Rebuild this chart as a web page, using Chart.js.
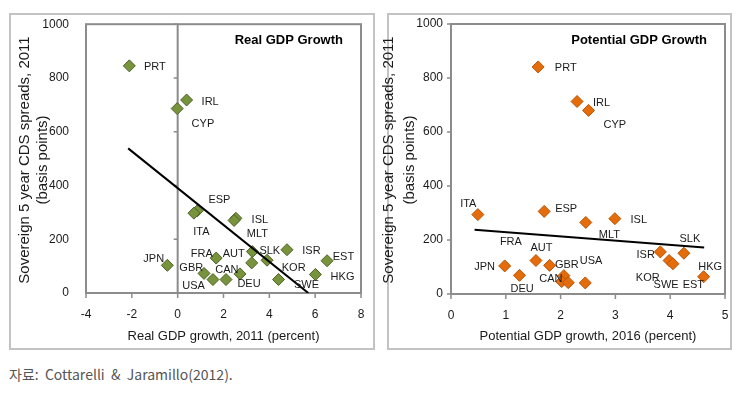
<!DOCTYPE html>
<html><head><meta charset="utf-8">
<script src="https://cdn.jsdelivr.net/npm/chart.js@4/dist/chart.umd.min.js"></script>
<style>
html,body{margin:0;padding:0;background:#fff;}
body{width:750px;height:408px;position:relative;overflow:hidden;}
#c1{position:absolute;left:0;top:0;}
#c2{position:absolute;left:380px;top:0;}
#src{position:absolute;left:9px;top:364px;font:14px "Noto Sans CJK KR","Liberation Sans",sans-serif;color:#555;white-space:pre;}
</style></head><body>
<canvas id="c1" width="380" height="360"></canvas>
<canvas id="c2" width="370" height="360"></canvas>
<div id="src">자료:  Cottarelli  &amp;  Jaramillo(2012).</div>
<script>
// ---------- DATA ----------
const realCountries = ['PRT','IRL','CYP','ESP','ITA','ISL','MLT','JPN','FRA','SLK','AUT','KOR','ISR','EST','HKG','SWE','GBR','CAN','USA','DEU'];
const realGrowth    = [-2.11,0.39,-0.02,0.86,0.71,2.54,2.46,-0.45,1.68,3.26,3.23,3.90,4.77,6.52,6.01,4.40,1.15,2.11,1.54,2.72];
const realCds       = [845,718,686,306,297,278,270,103,130,154,112,122,161,120,69,50,73,50,50,71];
const realTrendX    = [-2.16,5.70];
const realTrendY    = [538,0];

const potCountries  = ['PRT','IRL','CYP','ITA','ESP','MLT','ISL','ISR','SLK','KOR','SWE','HKG','JPN','DEU','AUT','GBR','FRA','CAN','EST','USA'];
const potGrowth     = [1.59,2.30,2.51,0.49,1.70,2.46,2.99,3.82,4.25,3.98,4.05,4.61,0.98,1.25,1.55,1.80,2.06,2.02,2.14,2.45];
const potCds        = [841,713,680,294,306,265,279,156,151,124,112,64,104,69,124,106,68,46,42,41];
const potTrendX     = [0.43,4.62];
const potTrendY     = [238,172];

const yTicks = [0,200,400,600,800,1000];
const realXTicks = [-4,-2,0,2,4,6,8];
const potXTicks = [0,1,2,3,4,5];

// ---------- LAYOUT (label offsets in px, left edge / vertical middle) ----------
const realLabelOffsets = [[14.7,1],[15,1.7],[14.4,15.7],[11,-11],[-0.7,18.4],[15.7,1.7],[12.7,13.3],[-24,-6.2],[-25.3,-4],[7,-0.7],[-29,-9],[14.7,7.8],[15.3,1],[5.7,-3.6],[15.2,2.6],[15.5,5.3],[-24.7,-5.4],[-10.7,-9.7],[-30.7,6.3],[-2.6,9.8]];
const potLabelOffsets  = [[16.7,0.6],[16,1],[15,14.7],[-17.7,-11],[11,-2.4],[13,12.3],[15.7,1.7],[-23.8,3],[-4.4,-14],[-33.3,17.6],[-19.4,21],[-5.4,-9.4],[-30.5,1.3],[-9,13.8],[-5.5,-12.8],[5.3,-0.5],[-64,-34],[-22.4,-2.4],[114.4,2.3],[-5.5,-22.3]];

const FONT = '"Liberation Sans", Arial, sans-serif';
const AXIS_GRAY = '#8c8c8c';

function pts(xs, ys){ return xs.map((x,i)=>({x:x, y:ys[i]})); }

function panelPlugin(o){
  return {
    id: 'panel_' + o.name,
    beforeDraw(chart){
      const ctx = chart.ctx;
      ctx.save();
      ctx.fillStyle = '#fff';
      ctx.fillRect(0,0,chart.width,chart.height);
      ctx.strokeStyle = '#c3c3c3';
      ctx.lineWidth = 2;
      ctx.strokeRect(o.frame[0], o.frame[1], o.frame[2], o.frame[3]);
      ctx.restore();
    },
    beforeDatasetsDraw(chart){
      const ctx = chart.ctx, a = chart.chartArea;
      const xs = chart.scales.x, ys = chart.scales.y;
      ctx.save();
      ctx.strokeStyle = AXIS_GRAY;
      ctx.lineWidth = 2;
      ctx.strokeRect(a.left, a.top, a.right - a.left, a.bottom - a.top);
      const x0 = xs.getPixelForValue(0);
      ctx.beginPath(); ctx.moveTo(x0, a.top); ctx.lineTo(x0, a.bottom); ctx.stroke();
      ctx.lineWidth = 1.5;
      ctx.beginPath();
      o.yTicks.forEach(v=>{ const y = ys.getPixelForValue(v); ctx.moveTo(x0-4, y); ctx.lineTo(x0, y); });
      o.xTicks.forEach(v=>{ const x = xs.getPixelForValue(v); ctx.moveTo(x, a.bottom); ctx.lineTo(x, a.bottom+5); });
      ctx.stroke();
      ctx.restore();
    },
    afterDatasetsDraw(chart){
      const ctx = chart.ctx, a = chart.chartArea;
      const meta = chart.getDatasetMeta(0);
      ctx.save();
      ctx.fillStyle = '#1a1a1a';
      ctx.font = '11px ' + FONT;
      ctx.textAlign = 'left';
      ctx.textBaseline = 'middle';
      meta.data.forEach((el,i)=>{
        const off = o.offsets[i];
        ctx.fillText(o.labels[i], el.x + off[0], el.y + off[1]);
      });
      ctx.font = 'bold 13px ' + FONT;
      ctx.textAlign = 'right';
      ctx.fillStyle = '#000';
      ctx.fillText(o.title, a.right - 18, 40);
      ctx.font = '13px ' + FONT;
      ctx.textAlign = 'center';
      ctx.fillStyle = '#1a1a1a';
      ctx.fillText(o.xTitle, (a.left + a.right)/2, 336.5);
      ctx.font = '15px ' + FONT;
      o.yTitle.forEach((t,i)=>{
        ctx.save();
        ctx.translate(o.yTitleX[i], 160);
        ctx.rotate(-Math.PI/2);
        ctx.fillText(t, 0, 0);
        ctx.restore();
      });
      ctx.restore();
    }
  };
}

function makeChart(id, o){
  return new Chart(document.getElementById(id), {
    data: {
      datasets: [
        { type:'scatter', data: pts(o.xData, o.yData), pointStyle:'rectRot', pointRadius:6, pointHoverRadius:6,
          backgroundColor:o.fill, borderColor:o.edge, borderWidth:1, order:2 },
        { type:'line', data: pts(o.trendX, o.trendY), borderColor:'#000', borderWidth:2, pointRadius:0, fill:false, order:1 }
      ]
    },
    options: {
      responsive:false, animation:false,
      layout:{ padding:{ left:0, top:24, right:o.padRight, bottom:0 } },
      plugins:{ legend:{display:false}, tooltip:{enabled:false} },
      scales:{
        x:{ type:'linear', min:o.xMin, max:o.xMax,
            afterBuildTicks(s){ s.ticks = o.xTicks.map(v=>({value:v})); },
            grid:{display:false, drawTicks:false}, border:{display:false},
            ticks:{ font:{family:FONT, size:12}, color:'#1a1a1a', padding:14, maxRotation:0, autoSkip:false,
                    callback:(v)=>String(v) },
            afterFit(s){ s.height = o.xHeight; } },
        y:{ type:'linear', min:0, max:1000,
            afterBuildTicks(s){ s.ticks = o.yTicks.map(v=>({value:v})); },
            grid:{display:false, drawTicks:false}, border:{display:false},
            ticks:{ font:{family:FONT, size:12}, color:'#1a1a1a', padding:o.yPad, autoSkip:false,
                    callback:(v)=>String(v) },
            afterFit(s){ s.width = o.yWidth; } }
      }
    },
    plugins:[ panelPlugin(o) ]
  });
}

makeChart('c1', {
  name:'real', xData:realGrowth, yData:realCds, trendX:realTrendX, trendY:realTrendY,
  labels:realCountries, offsets:realLabelOffsets, xTicks:realXTicks, yTicks:yTicks,
  xMin:-4, xMax:8, fill:'#77933C', edge:'#4F6228',
  padRight:19, xHeight:67, yWidth:86, yPad:17,
  frame:[10,14,364,335],
  title:'Real GDP Growth', xTitle:'Real GDP growth, 2011 (percent)',
  yTitle:['Sovereign 5 year CDS spreads, 2011','(basis points)'], yTitleX:[25,43]
});
makeChart('c2', {
  name:'pot', xData:potGrowth, yData:potCds, trendX:potTrendX, trendY:potTrendY,
  labels:potCountries, offsets:potLabelOffsets, xTicks:potXTicks, yTicks:yTicks,
  xMin:0, xMax:5, fill:'#E46C0A', edge:'#B85607',
  padRight:25, xHeight:66, yWidth:71, yPad:8,
  frame:[8,14,343,335],
  title:'Potential GDP Growth', xTitle:'Potential GDP growth, 2016 (percent)',
  yTitle:['Sovereign 5 year CDS spreads, 2011','(basis points)'], yTitleX:[9,30]
});
</script>
</body></html>
